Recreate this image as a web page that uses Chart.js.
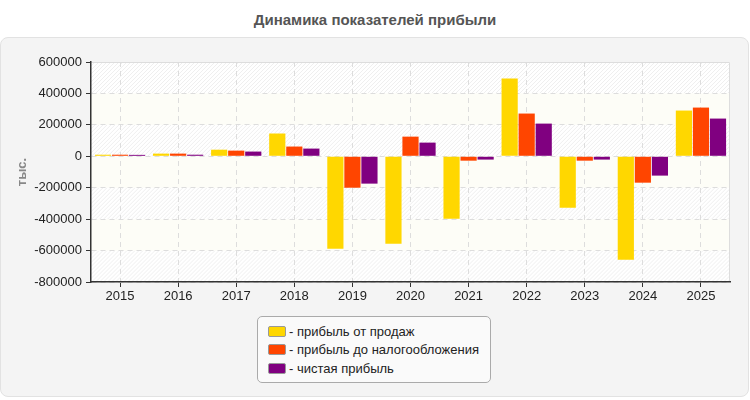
<!DOCTYPE html>
<html>
<head>
<meta charset="utf-8">
<script src="https://cdn.jsdelivr.net/npm/chart.js@4"></script>
<style>
    body { margin: 0; width: 750px; height: 400px; position: relative; background: #fff; font-family: "Liberation Sans", Arial, sans-serif; overflow: hidden; }
    #title { position: absolute; top: 11px; left: 0; width: 750px; text-align: center; font-weight: bold; font-size: 15px; color: #555; }
    #panel { position: absolute; left: 0; top: 37px; width: 747px; height: 358px; background: #f4f4f4; border: 1px solid #e2e2e2; border-radius: 8px; }
    #wrap { position: absolute; left: 0; top: 0; width: 750px; height: 400px; }
    #legend { position: absolute; left: 257px; top: 316px; width: 234px; height: 67px; background: #fafafa; border: 1px solid #aaa; border-radius: 5px; box-sizing: border-box; padding: 5px 0 0 10px; }
    .item { height: 18.5px; font-size: 13px; color: #222; display: flex; align-items: center; }
    .sw { width: 16px; height: 9px; border: 1px solid #999; border-radius: 2px; margin-right: 3px; }
</style>
</head>
<body>
<div id="title">Динамика показателей прибыли</div>
<div id="panel"></div>
<div id="wrap"><canvas id="profitChart" width="750" height="400"></canvas></div>
<div id="legend"></div>
<script>
const years = ['2015', '2016', '2017', '2018', '2019', '2020', '2021', '2022', '2023', '2024', '2025'];
const salesProfit = [10000, 17000, 42000, 145000, -589000, -557000, -397000, 495000, -327000, -659000, 291000];
const pretaxProfit = [10000, 17000, 36000, 62000, -200000, 125000, -28000, 272000, -28000, -168000, 310000];
const netProfit = [9000, 10000, 30000, 49000, -174000, 87000, -21000, 208000, -21000, -123000, 240000];
const seriesNames = ['- прибыль от продаж', '- прибыль до налогообложения', '- чистая прибыль'];
const seriesColors = ['#ffd700', '#ff4500', '#800080'];

// striped plot background: hatched / cream bands between y ticks
const bandsPlugin = {
    id: 'bands',
    beforeDraw(chart) {
        const { ctx, chartArea: a, scales: { y } } = chart;
        ctx.save();
        ctx.fillStyle = '#ffffff';
        ctx.fillRect(a.left, a.top, a.right - a.left, a.bottom - a.top);
        const ticks = y.ticks.map(t => y.getPixelForValue(t.value)).sort((p, q) => p - q);
        for (let i = 0; i < ticks.length - 1; i++) {
            const top = ticks[i], bot = ticks[i + 1];
            if (i % 2 === 1) {
                ctx.fillStyle = '#fdfdf7';
                ctx.fillRect(a.left, top, a.right - a.left, bot - top);
            } else {
                ctx.save();
                ctx.beginPath();
                ctx.rect(a.left, top, a.right - a.left, bot - top);
                ctx.clip();
                ctx.strokeStyle = '#efefef';
                ctx.lineWidth = 1;
                for (let x = a.left - (bot - top); x < a.right; x += 4) {
                    ctx.beginPath();
                    ctx.moveTo(x, bot);
                    ctx.lineTo(x + (bot - top), top);
                    ctx.stroke();
                }
                ctx.restore();
            }
        }
        // light top / right border
        ctx.strokeStyle = '#dddddd';
        ctx.lineWidth = 1;
        ctx.beginPath();
        ctx.moveTo(a.left, a.top + 0.5);
        ctx.lineTo(a.right - 0.5, a.top + 0.5);
        ctx.lineTo(a.right - 0.5, a.bottom);
        ctx.stroke();
        ctx.restore();
    }
};

new Chart(document.getElementById('profitChart'), {
    type: 'bar',
    data: {
        labels: years,
        datasets: [
            { label: seriesNames[0], data: salesProfit, backgroundColor: seriesColors[0] },
            { label: seriesNames[1], data: pretaxProfit, backgroundColor: seriesColors[1] },
            { label: seriesNames[2], data: netProfit, backgroundColor: seriesColors[2] }
        ]
    },
    options: {
        responsive: false,
        animation: false,
        categoryPercentage: 0.88,
        barPercentage: 0.95,
        layout: { padding: { left: 10, top: 62, right: 20, bottom: 0 } },
        plugins: {
            legend: { display: false },
            tooltip: { enabled: false }
        },
        scales: {
            x: {
                grid: {
                    offset: false,
                    color: '#dddddd',
                    tickColor: '#333',
                    tickLength: 5,
                    drawOnChartArea: true
                },
                border: { color: '#333', width: 1.5, dash: [5, 4] },
                ticks: { color: '#222', font: { family: 'Liberation Sans', size: 13 }, padding: 2 },
                afterFit(s) { s.height = 118; }
            },
            y: {
                min: -800000,
                max: 600000,
                ticks: {
                    stepSize: 200000,
                    color: '#222',
                    font: { family: 'Liberation Sans', size: 13 },
                    padding: 4,
                    callback: v => String(v)
                },
                grid: { color: '#dddddd', tickColor: '#333', tickLength: 5 },
                border: { color: '#333', width: 1.5, dash: [5, 4] },
                title: { display: true, text: 'тыс.', color: '#888', font: { family: 'Liberation Sans', size: 13, weight: 'bold' }, padding: { top: 5, bottom: 0 } },
                afterFit(s) { s.width = 81; }
            }
        }
    },
    plugins: [bandsPlugin]
});

const legend = document.getElementById('legend');
seriesNames.forEach((name, i) => {
    const row = document.createElement('div');
    row.className = 'item';
    row.innerHTML = '<span class="sw" style="background:' + seriesColors[i] + '"></span>' + name;
    legend.appendChild(row);
});
</script>
</body>
</html>
